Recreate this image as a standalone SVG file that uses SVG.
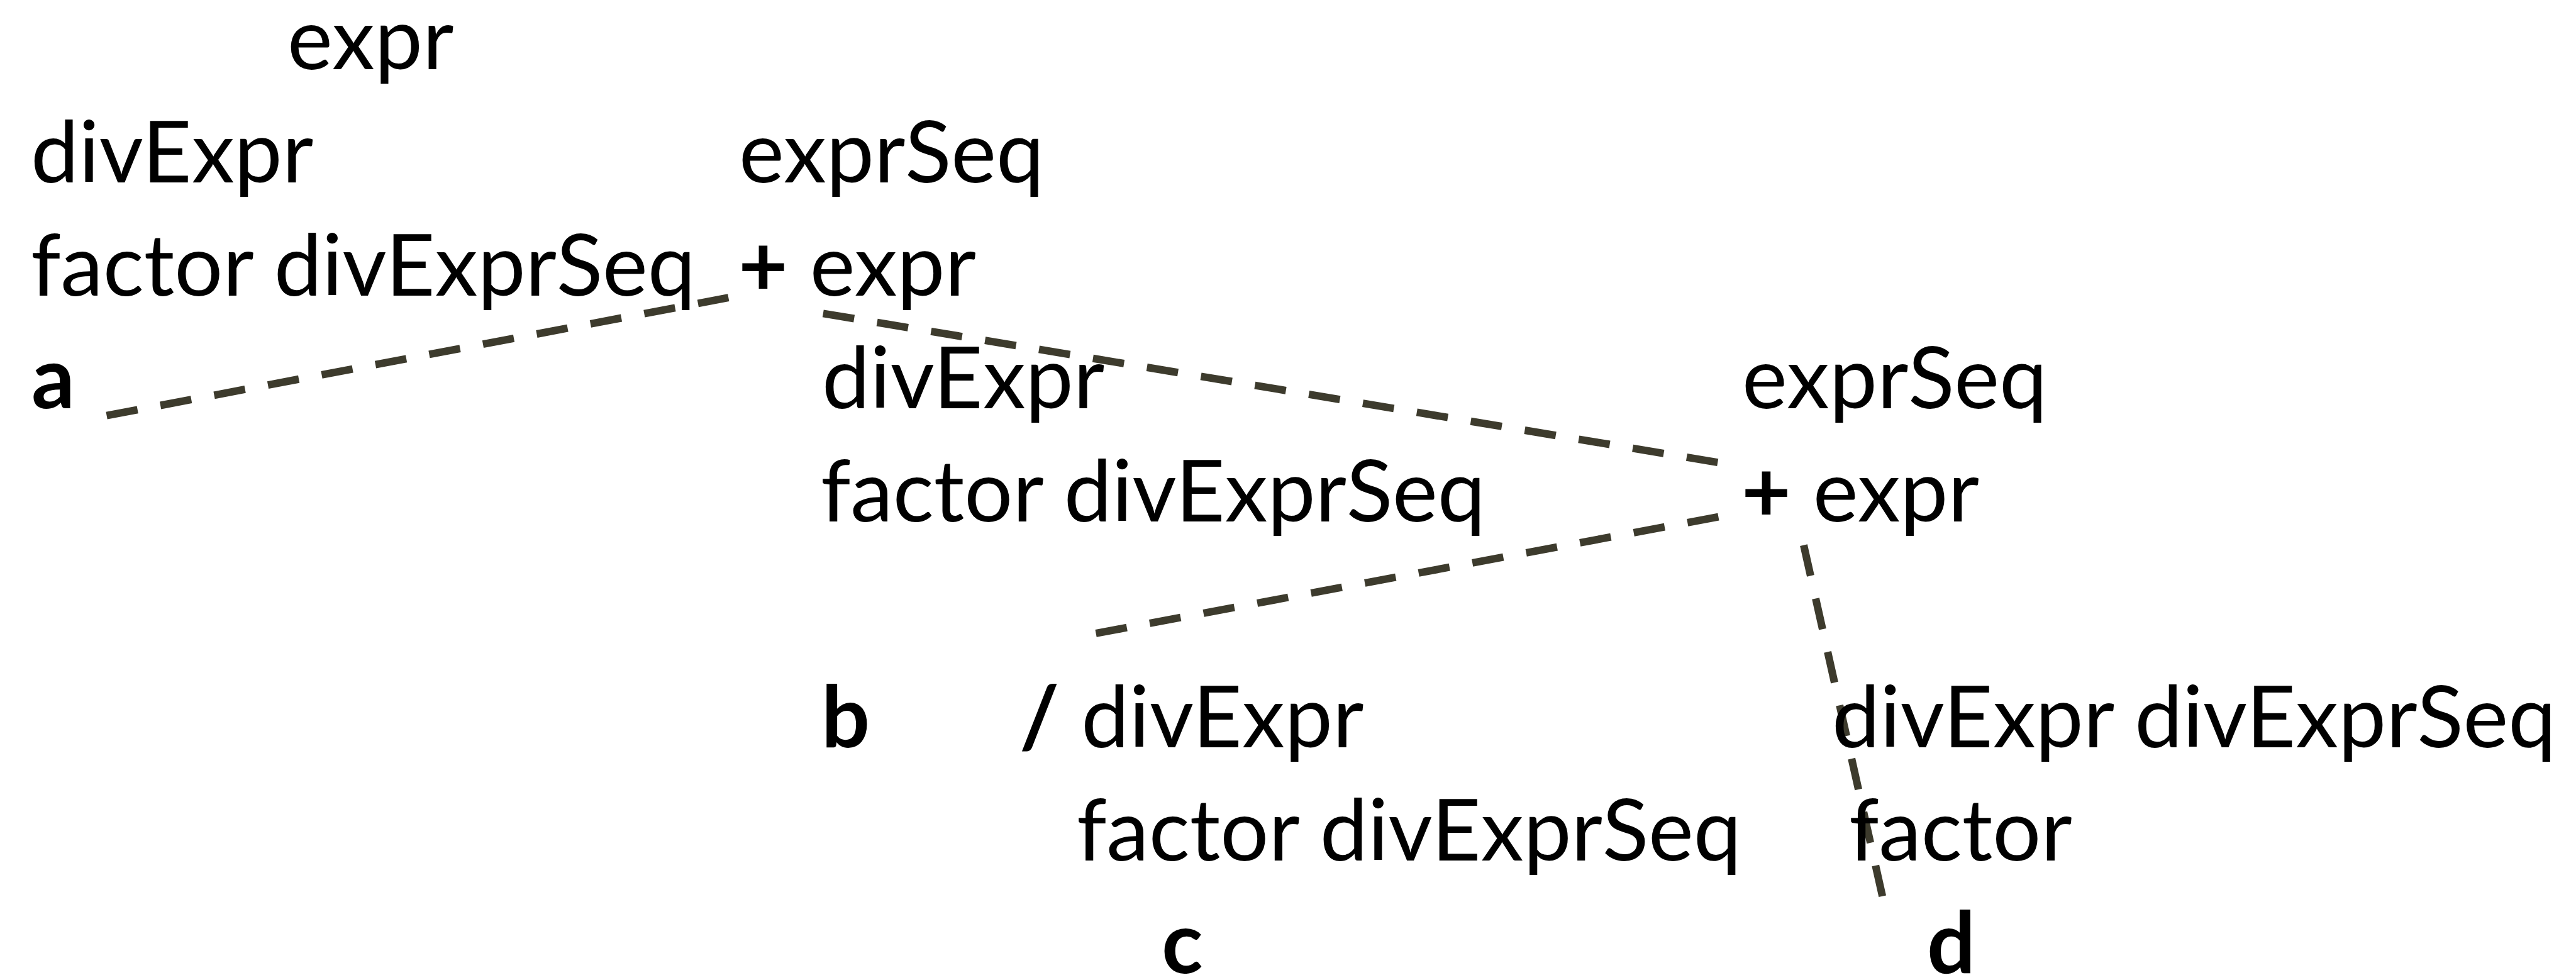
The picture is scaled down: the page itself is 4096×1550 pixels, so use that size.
<svg xmlns="http://www.w3.org/2000/svg" width="4096" height="1550" viewBox="0 0 4096 1550">
  <style>
    text { font-family: Lato, "Noto Sans", sans-serif; font-size: 136px; fill: #000; }
    .b { font-weight: bold; }
    .edge { fill: none; stroke: #3d3b2d; stroke-width: 12; stroke-dasharray: 50 37; stroke-linecap: butt; }
  </style>
  <rect width="4096" height="1550" fill="#fff"/>

  <!-- dashed connectors -->
  <g id="connectors">
    <line class="edge" x1="169.6" y1="660.7" x2="1158.3" y2="473.2"/>
    <line class="edge" x1="1308.8" y1="498.3" x2="2740.3" y2="736.6"/>
    <line class="edge" x1="2732.4" y1="821.7" x2="1737.8" y2="1007.8"/>
    <line class="edge" x1="2868" y1="866.6" x2="2993.8" y2="1427.5"/>
  </g>

  <!-- top-level expression -->
  <g id="node-expr-root">
    <text x="457" y="110">expr</text>
  </g>
  <g id="node-divExpr-1">
    <text x="49" y="290">divExpr</text>
    <text x="49" y="470">factor divExprSeq</text>
  </g>
  <g id="node-a">
    <text class="b" x="50" y="649">a</text>
  </g>
  <g id="node-exprSeq-1">
    <text x="1175" y="290">exprSeq</text>
    <text x="1174" y="470"><tspan class="b">+</tspan> expr</text>
  </g>

  <!-- second level -->
  <g id="node-divExpr-2">
    <text x="1307" y="649">divExpr</text>
    <text x="1305" y="829">factor divExprSeq</text>
  </g>
  <g id="node-exprSeq-2">
    <text x="2770" y="649">exprSeq</text>
    <text x="2769" y="829"><tspan class="b">+</tspan> expr</text>
  </g>

  <!-- leaves -->
  <g id="node-b">
    <text class="b" x="1306" y="1188">b</text>
  </g>
  <g id="node-divExpr-3">
    <text x="1621" y="1188"><tspan class="b">/</tspan> divExpr</text>
    <text x="1712" y="1368">factor divExprSeq</text>
  </g>
  <g id="node-c">
    <text class="b" x="1847" y="1547">c</text>
  </g>
  <g id="node-divExpr-4">
    <text x="2913" y="1188">divExpr divExprSeq</text>
    <text x="2940" y="1368">factor</text>
  </g>
  <g id="node-d">
    <text class="b" x="3064" y="1547">d</text>
  </g>
</svg>
